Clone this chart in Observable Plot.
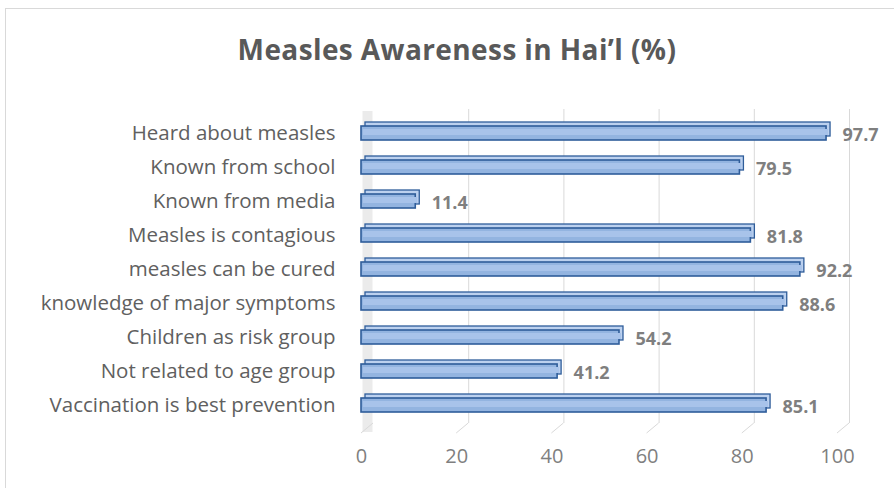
<!DOCTYPE html>
<html><head><meta charset="utf-8">
<script src="https://cdn.jsdelivr.net/npm/d3@7"></script>
<script src="https://cdn.jsdelivr.net/npm/@observablehq/plot@0.6"></script>
<style>
body{margin:0;background:#fff;}
#wrap{position:relative;width:894px;height:488px;overflow:hidden;font-family:"Open Sans",sans-serif;}
#frame{position:absolute;left:5px;top:8px;width:1000px;height:600px;border:1.5px solid #d9d9d9;box-sizing:border-box;}
#title{position:absolute;left:0;top:29px;width:914px;text-align:center;font-size:28px;font-weight:bold;color:#595959;letter-spacing:0.4px;line-height:40px;}
#chart{position:absolute;left:0;top:0;}
</style></head>
<body><div id="wrap"><div id="frame"></div><div id="chart"></div><div id="title">Measles Awareness in Hai’l (%)</div></div>
<script>
const categories = ["Heard about measles","Known from school","Known from media","Measles is contagious","measles can be cured","knowledge of major symptoms","Children as risk group","Not related to age group","Vaccination is best prevention"];
const values = [97.7,79.5,11.4,81.8,92.2,88.6,54.2,41.2,85.1];
const ticks = [0,20,40,60,80,100];
const data = categories.map((c,i)=>({cat:c, v:values[i]}));

const floor = (index, scales, values, dim) => {
  const g = d3.create("svg:g");
  const yb = dim.height - dim.marginBottom;
  for (const t of ticks) {
    const x = scales.x(t);
    g.append("line").attr("x1", x+12).attr("y1", yb-9).attr("x2", x).attr("y2", yb+1)
      .attr("stroke","#d9d9d9").attr("stroke-width",1);
  }
  return g.node();
};

const chart = Plot.plot({
  width: 894, height: 488,
  marginLeft: 361, marginRight: 57, marginTop: 105, marginBottom: 56,
  style: {fontFamily: "'Open Sans', sans-serif", background: "transparent"},
  x: {domain: [0,100], ticks: ticks, label: null},
  y: {domain: categories, padding: 0.6, label: null},
  marks: [
    Plot.ruleX([0], {stroke:"#ebebeb", strokeWidth: 10, dx: 6, insetTop: 6}),
    Plot.ruleX(ticks.slice(1), {stroke:"#d9d9d9", strokeWidth: 1, dx: 12, insetBottom: 9, insetTop: 4}),
    floor,
    Plot.barX(data, {x: "v", y: "cat", fill: "#bcd1ef", stroke: "#2f5d9a", strokeWidth: 1.3, dx: 4, dy: -4}),
    Plot.barX(data, {x: "v", y: "cat", fill: "#93b4e0", stroke: "#2f5d9a", strokeWidth: 1.6}),
    Plot.barX(data, {x: "v", y: "cat", fill: "#a8c3ea", stroke: "none", insetTop: 3, insetBottom: 5, dx: 2}),
    Plot.text(data, {x: "v", y: "cat", text: d => d.v.toFixed(1), textAnchor: "start", dx: 16, dy: 2, fontSize: 18, fontWeight: "bold", fill: "#7f7f7f"}),
    Plot.axisY({tickSize: 0, tickPadding: 26, fontSize: 20.5, color: "#606060"}),
    Plot.axisX({tickSize: 0, tickPadding: 16, fontSize: 20, color: "#7f7f7f", tickFormat: d => String(d)})
  ]
});
document.getElementById("chart").append(chart);
</script></body></html>
